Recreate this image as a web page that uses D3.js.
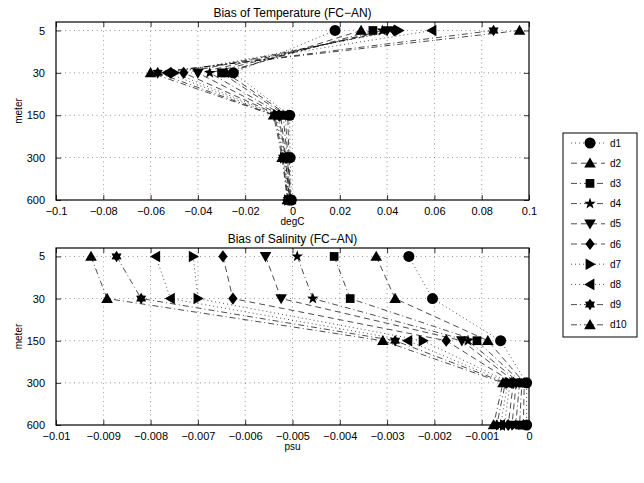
<!DOCTYPE html>
<html><head><meta charset="utf-8">
<script src="https://cdn.jsdelivr.net/npm/d3@7"></script>
<style>body{margin:0;background:#fff}svg{display:block}text{font-family:"Liberation Sans",Arial,sans-serif;fill:#000}</style>
</head><body><div id="c"></div>
<script>
const depths = ["5","30","150","300","600"];
const seriesNames = ["d1","d2","d3","d4","d5","d6","d7","d8","d9","d10"];
const tempBias = [
  [0.018, -0.025, -0.0012, -0.0010, -0.0005],
  [0.029, -0.028, -0.0020, -0.0015, -0.0008],
  [0.034, -0.030, -0.0030, -0.0020, -0.0010],
  [0.038, -0.035, -0.0040, -0.0022, -0.0010],
  [0.040, -0.040, -0.0050, -0.0028, -0.0013],
  [0.043, -0.046, -0.0058, -0.0030, -0.0015],
  [0.045, -0.050, -0.0062, -0.0034, -0.0017],
  [0.059, -0.053, -0.0070, -0.0038, -0.0020],
  [0.085, -0.057, -0.0075, -0.0040, -0.0020],
  [0.096, -0.060, -0.0080, -0.0044, -0.0022]
];
const salBias = [
  [-0.00254, -0.00204, -0.00060, -0.00005, -0.00005],
  [-0.00323, -0.00283, -0.00087, -0.00010, -0.00012],
  [-0.00412, -0.00378, -0.00110, -0.00015, -0.00020],
  [-0.00490, -0.00457, -0.00129, -0.00020, -0.00028],
  [-0.00557, -0.00524, -0.00142, -0.00027, -0.00036],
  [-0.00647, -0.00626, -0.00175, -0.00033, -0.00044],
  [-0.00710, -0.00700, -0.00224, -0.00040, -0.00052],
  [-0.00789, -0.00758, -0.00256, -0.00045, -0.00060],
  [-0.00872, -0.00820, -0.00283, -0.00050, -0.00068],
  [-0.00926, -0.00892, -0.00309, -0.00055, -0.00075]
];
const tempTicks = [-0.1,-0.08,-0.06,-0.04,-0.02,0,0.02,0.04,0.06,0.08,0.1];
const salTicks = [-0.01,-0.009,-0.008,-0.007,-0.006,-0.005,-0.004,-0.003,-0.002,-0.001,0];

// styles
const markers = ["circle","triUp","square","star5","triDown","diamond","triRight","triLeft","star6","triUp"];
const dashes = ["1,3","6,4","6,3,1,3","6,3,1,3","6,4","6,4","1,3","1,3","6,3,1,3","6,3,1,3"];

function markerPath(type, r){
  const p = d3.path();
  const poly = pts => { pts.forEach((q,i)=> i?p.lineTo(q[0],q[1]):p.moveTo(q[0],q[1])); p.closePath(); };
  switch(type){
    case "circle": p.arc(0,0,r*0.95,0,2*Math.PI); break;
    case "square": poly([[-r*0.75,-r*0.75],[r*0.75,-r*0.75],[r*0.75,r*0.75],[-r*0.75,r*0.75]]); break;
    case "diamond": poly([[0,-r*1.05],[r*0.8,0],[0,r*1.05],[-r*0.8,0]]); break;
    case "triUp": poly([[0,-r],[r,r*0.75],[-r,r*0.75]]); break;
    case "triDown": poly([[0,r],[r,-r*0.75],[-r,-r*0.75]]); break;
    case "triRight": poly([[r,0],[-r*0.75,r],[-r*0.75,-r]]); break;
    case "triLeft": poly([[-r,0],[r*0.75,r],[r*0.75,-r]]); break;
    case "star5": { const pts=[]; for(let i=0;i<10;i++){const a=-Math.PI/2+i*Math.PI/5; const rr=i%2?r*0.42:r*1.05; pts.push([rr*Math.cos(a),rr*Math.sin(a)]);} poly(pts); break; }
    case "star6": { const pts=[]; for(let i=0;i<12;i++){const a=-Math.PI/2+i*Math.PI/6; const rr=i%2?r*0.6:r*1.0; pts.push([rr*Math.cos(a),rr*Math.sin(a)]);} poly(pts); break; }
  }
  return p.toString();
}

const W=644,H=483;
const svg = d3.select("#c").append("svg").attr("width",W).attr("height",H);

function panel(top, bottom, xDomain, ticks, data, title, xlabel, fmt){
  const left=56, right=529;
  const x = d3.scaleLinear().domain(xDomain).range([left,right]);
  const y = d3.scaleLinear().domain([0.8,5]).range([top,bottom]);
  const g = svg.append("g");
  // grid
  ticks.forEach(t=>{ if(t!==xDomain[0] && t!==xDomain[1]) g.append("line").attr("x1",x(t)).attr("x2",x(t)).attr("y1",top).attr("y2",bottom).attr("stroke","#000").attr("stroke-width",0.6).attr("stroke-dasharray","1,3.5").attr("opacity",0.7); });
  depths.forEach((d,i)=>{ if(i<4) g.append("line").attr("x1",left).attr("x2",right).attr("y1",y(i+1)).attr("y2",y(i+1)).attr("stroke","#000").attr("stroke-width",0.6).attr("stroke-dasharray","1,3.5").attr("opacity",0.7); });
  // axes
  const xb = d3.axisBottom(x).tickValues(ticks).tickSizeInner(-5).tickSizeOuter(0).tickPadding(7).tickFormat(fmt);
  const xt = d3.axisTop(x).tickValues(ticks).tickSizeInner(-5).tickSizeOuter(0).tickFormat("");
  const yl = d3.axisLeft(y).tickValues([1,2,3,4,5]).tickSizeInner(-5).tickSizeOuter(0).tickPadding(11).tickFormat((d,i)=>depths[i]);
  const yr = d3.axisRight(y).tickValues([1,2,3,4,5]).tickSizeInner(-5).tickSizeOuter(0).tickFormat("");
  [[xb,`translate(0,${bottom})`],[xt,`translate(0,${top})`],[yl,`translate(${left},0)`],[yr,`translate(${right},0)`]].forEach(([ax,tr])=>{
    const a = g.append("g").attr("transform",tr).call(ax);
    a.select(".domain").remove();
    a.selectAll("line").attr("stroke","#000").attr("stroke-width",0.8);
    a.selectAll("text").attr("font-size",11).attr("font-family","Liberation Sans, Arial, sans-serif");
  });
  g.append("rect").attr("x",left).attr("y",top).attr("width",right-left).attr("height",bottom-top).attr("fill","none").attr("stroke","#000").attr("stroke-width",1.2);
  // series
  const line = d3.line().x(d=>x(d)).y((d,i)=>y(i+1));
  data.forEach((s,k)=>{
    g.append("path").attr("d",line(s)).attr("fill","none").attr("stroke","#000").attr("stroke-width",0.7).attr("stroke-dasharray",dashes[k]);
  });
  data.forEach((s,k)=>{
    s.forEach((v,i)=>{
      g.append("path").attr("d",markerPath(markers[k],5.8)).attr("transform",`translate(${x(v)},${y(i+1)})`).attr("fill","#000");
    });
  });
  g.append("text").attr("x",(left+right)/2).attr("y",top-5).attr("text-anchor","middle").attr("font-size",12).text(title);
  g.append("text").attr("x",(left+right)/2).attr("y",bottom+18).attr("dy","0.7em").attr("text-anchor","middle").attr("font-size",10).text(xlabel);
  g.append("text").attr("transform",`translate(22,${(top+bottom)/2}) rotate(-90)`).attr("text-anchor","middle").attr("font-size",10).text("meter");
}

const fmtT = d=> d===0?"0":d3.format("")(d);
panel(22,200,[-0.1,0.1],tempTicks,tempBias,"Bias of Temperature (FC\u2212AN)","degC",fmtT);
panel(248,425,[-0.01,0],salTicks,salBias,"Bias of Salinity (FC\u2212AN)","psu",fmtT);

// legend
const lg = svg.append("g");
lg.append("rect").attr("x",563).attr("y",133).attr("width",74).attr("height",204).attr("fill","#fff").attr("stroke","#000").attr("stroke-width",1);
seriesNames.forEach((n,k)=>{
  const yy = 143 + k*20.2;
  lg.append("line").attr("x1",571).attr("x2",605).attr("y1",yy).attr("y2",yy).attr("stroke","#000").attr("stroke-width",0.7).attr("stroke-dasharray",dashes[k]);
  lg.append("path").attr("d",markerPath(markers[k],5.8)).attr("transform",`translate(590,${yy})`).attr("fill","#000");
  lg.append("text").attr("x",610).attr("y",yy).attr("dy","0.35em").attr("font-size",10).text(n);
});
</script></body></html>
